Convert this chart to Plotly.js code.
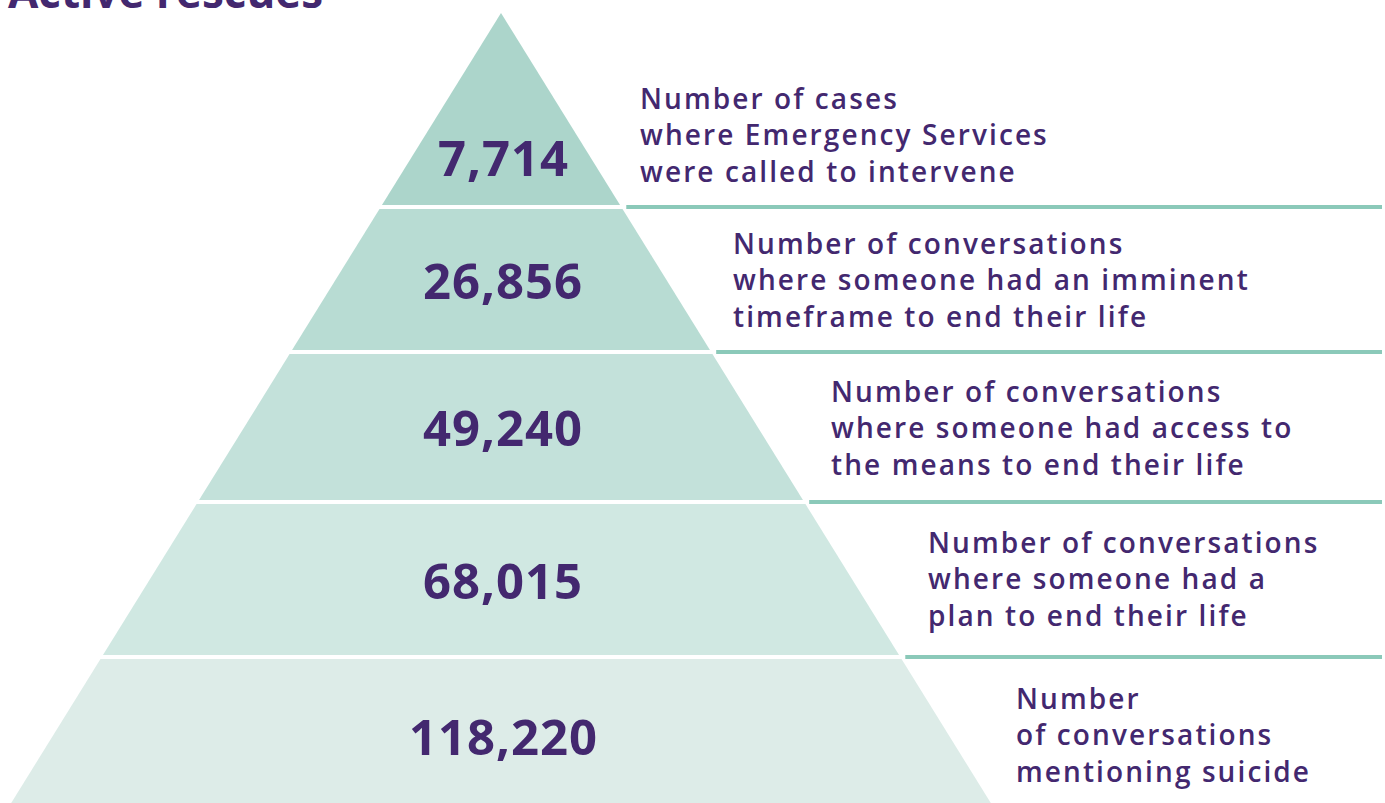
<!DOCTYPE html>
<html><head><meta charset="utf-8">
<script src="https://cdn.plot.ly/plotly-3.0.1.min.js"></script>
<style>html,body{margin:0;padding:0;background:#fff;}#chart{width:1385px;height:803px;}</style>
</head><body><div id="chart"></div>
<script>
// ---- data ----
const values = [7714, 26856, 49240, 68015, 118220];
const labels = [
  ["Number of cases", "where Emergency Services", "were called to intervene"],
  ["Number of conversations", "where someone had an imminent", "timeframe to end their life"],
  ["Number of conversations", "where someone had access to", "the means to end their life"],
  ["Number of conversations", "where someone had a", "plan to end their life"],
  ["Number", "of conversations", "mentioning suicide"]
];
const titleText = "Active rescues";

// ---- geometry (layout) ----
const W = 1385, H = 803;
const apexX = 501, apexY = 13, slope = 0.62;
const bandTop = [13, 209, 354, 504, 659];
const bandBot = [205, 350, 500, 655, 810];
const fills = ["#acd5cb", "#b8dcd3", "#c3e1da", "#d0e8e2", "#ddece8"];
const purple = "#43286f";
const lineColor = "#8bc9b9";
const half = y => slope * (y - apexY);

const traces = [];
const annotations = [];
const shapes = [];
values.forEach((v, i) => {
  const t = bandTop[i], b = bandBot[i];
  const xs = [apexX - half(t), apexX + half(t), apexX + half(b), apexX - half(b), apexX - half(t)];
  const ys = [t, t, b, b, t];
  traces.push({x: xs, y: ys, type: "scatter", mode: "lines", fill: "toself",
    fillcolor: fills[i], line: {width: 0, color: fills[i]}, hoverinfo: "skip"});
  const cy = i === 0 ? 157 : (t + Math.min(b, 803)) / 2 + (i === 4 ? 5 : 0);
  annotations.push({x: apexX + 2, y: cy, xref: "x", yref: "y",
    text: '<span style="letter-spacing:1px">' + v.toLocaleString("en-US") + '</span>',
    showarrow: false, xanchor: "center", yanchor: "middle",
    font: {family: "Open Sans", size: 49, color: purple, weight: 700}});
});
const labelPos = [[638, 134], [731, 279], [829, 427], [926, 578], [1014, 734]];
labels.forEach((l, i) => {
  annotations.push({x: labelPos[i][0], y: labelPos[i][1], xref: "x", yref: "y",
    text: l.map(s => '<span style="letter-spacing:2.1px">' + s + '</span>').join("<br>"),
    showarrow: false, xanchor: "left", yanchor: "middle", align: "left",
    font: {family: "Open Sans", size: 28, color: purple, weight: 600}});
});
const lineY = [207, 352, 502, 657];
lineY.forEach(y => {
  shapes.push({type: "line", xref: "x", yref: "y", x0: apexX + half(y) + 5, x1: 1382, y0: y, y1: y,
    line: {color: lineColor, width: 4}});
});
annotations.push({x: 6, y: 11, xref: "x", yref: "y", text: "<b>" + titleText + "</b>", showarrow: false,
  xanchor: "left", yanchor: "bottom", yshift: -12,
  font: {family: "Open Sans", size: 44, color: purple}});

Plotly.newPlot("chart", traces, {
  width: W, height: H, margin: {l: 0, r: 0, t: 0, b: 0},
  paper_bgcolor: "#fff", plot_bgcolor: "#fff", showlegend: false, hovermode: false,
  xaxis: {range: [0, W], visible: false, fixedrange: true},
  yaxis: {range: [H, 0], visible: false, fixedrange: true},
  annotations: annotations, shapes: shapes
}, {displayModeBar: false, staticPlot: true});
</script></body></html>
